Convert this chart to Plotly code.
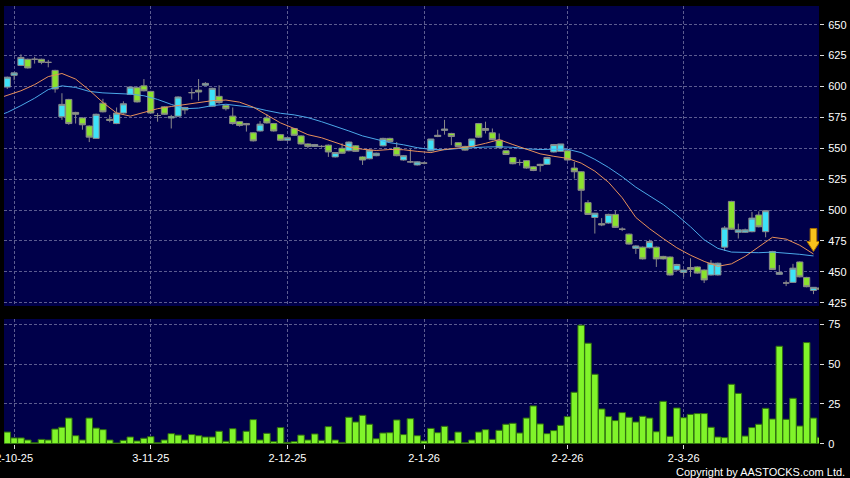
import plotly.graph_objects as go

# trading day index (0 = 30-9-25), one entry per session
days = list(range(120))

opens = [
    599.5, 609, 617, 622, 622, 622, 619.5, 613, 575.5, 589.5,
    579, 574.5, 568, 558, 586.5, 573.5, 570, 578.5, 593.5, 599,
    600.5, 596, 576.5, 583.5, 574.5, 576, 583, 595, 597, 601,
    584, 592, 584.5, 576, 571.5, 570, 562.5, 564, 574.5, 570,
    561, 556.5, 566, 560, 553.5, 551.5, 551.5, 552.5, 543, 550,
    548, 552, 543, 541.5, 544, 552, 558, 550.5, 540.5, 539,
    536.5, 538, 548, 559.5, 564.5, 562, 554.5, 551.5, 551.5, 570,
    566, 562.5, 556.5, 548, 542.5, 538.5, 540, 535, 536, 537,
    547, 547.5, 548, 534, 531, 506, 494, 489, 489.5, 496.5,
    484.5, 480.5, 469, 470, 469.5, 470, 462.5, 462, 451.5, 449.5,
    453.5, 454, 451.5, 447.5, 447.5, 470, 507, 482, 482, 482.5,
    496, 482.5, 466.5, 448, 441, 441.5, 458, 445.5, 435, 437,
]
highs = [
    608, 611.5, 626, 622.5, 624, 622.5, 621.5, 613.5, 594.5, 590,
    579.5, 575, 568.5, 578, 590, 577, 583, 588, 600, 600,
    606, 596.5, 578.5, 584, 577, 592, 583.5, 598.5, 606, 603.5,
    599, 601, 585, 583, 572, 570.5, 563, 572, 577.5, 570.5,
    561.5, 559, 566.5, 560.5, 554, 553.5, 552.5, 553, 547, 554,
    555.5, 552.5, 543.5, 549, 546.5, 558.5, 558.5, 555, 544.5, 549.5,
    539.5, 539, 557.5, 565, 573, 562.5, 555, 552, 557.5, 570.5,
    571.5, 566, 562, 548.5, 543, 541, 540.5, 535.5, 537.5, 543,
    553.5, 553.5, 548.5, 539, 531.5, 508, 497.5, 493.5, 497, 500,
    486, 481, 471.5, 470.5, 476, 470.5, 463, 462.5, 456.5, 452,
    461, 454.5, 452, 459.5, 457.5, 487, 507.5, 489, 485, 498.5,
    499, 499.5, 467, 455.5, 443, 456.5, 458.5, 446, 437.5, 438,
]
lows = [
    598, 605, 616.5, 614.5, 618.5, 618, 615.5, 595, 573, 569,
    570, 565, 555, 557.5, 579, 571, 569.5, 578, 593, 587,
    596, 578, 571.5, 577, 566, 575.5, 577.5, 589.5, 588.5, 600.5,
    583.5, 586, 580.5, 569, 567.5, 563.5, 555.5, 563.5, 570, 563.5,
    556, 556, 560, 553, 550, 551, 550.5, 543, 542.5, 545.5,
    547.5, 547, 536.5, 541, 543.5, 551.5, 555, 543.5, 540, 538,
    536, 537, 547.5, 559, 561, 552.5, 551, 548, 551, 558.5,
    562, 556.5, 550, 544.5, 537, 536, 533.5, 531.5, 531, 536.5,
    546.5, 547, 540, 525.5, 498.5, 496, 481, 487, 489, 485.5,
    483, 472, 464.5, 460, 469, 454, 460, 447, 451, 446,
    446, 448.5, 441, 447, 447, 467, 484, 477, 481.5, 482,
    486, 478, 452, 447.5, 438.5, 441, 445.5, 437.5, 432, 435,
]
closes = [
    607.5, 611, 623.5, 615, 622, 619.5, 619.5, 598, 585.5, 570,
    577.5, 569, 559, 577.5, 579.5, 572.5, 578.5, 586, 599.5, 587.5,
    596.5, 578.5, 576.5, 577.5, 575.5, 591.5, 581, 595, 595.5, 602.5,
    598.5, 587, 582, 570, 568.5, 569, 556, 569.5, 570.5, 564,
    556.5, 558.5, 560.5, 553.5, 551.5, 553, 551.5, 547, 546.5, 546,
    555, 547.5, 540.5, 548.5, 546, 558, 555.5, 544, 544, 539,
    539, 538, 557.5, 560.5, 565.5, 559.5, 551.5, 548.5, 557.5, 559,
    564.5, 557, 550.5, 545, 537.5, 538.5, 534, 532, 537, 542.5,
    553, 553.5, 540.5, 531, 516, 496.5, 497.5, 488, 496.5, 486,
    484.5, 472.5, 471, 460.5, 474.5, 460.5, 460.5, 447.5, 456, 451.5,
    452, 449, 443.5, 457, 457, 485.5, 484.5, 484, 484, 493.5,
    486.5, 499.5, 452, 449.5, 441, 453, 446, 438, 437.5, 436,
]
volume = [
    7.3, 3.6, 3.6, 2.3, 0.6, 2.7, 2.3, 9.2, 10.3, 16.1,
    5.0, 2.3, 16.1, 9.8, 8.8, 2.3, 0.4, 2.1, 4.2, 1.7,
    3.4, 4.4, 0.6, 2.3, 6.3, 5.4, 2.3, 5.7, 5.0, 4.2,
    4.2, 7.8, 1.5, 9.4, 1.7, 7.8, 15.1, 2.3, 6.5, 1.3,
    10.1, 0.8, 1.3, 5.4, 2.3, 6.1, 2.1, 10.7, 2.3, 0.8,
    16.6, 13.6, 17.8, 12.2, 3.1, 6.7, 6.9, 14.9, 5.7, 15.7,
    5.0, 1.7, 9.6, 6.9, 10.9, 1.9, 7.3, 0.6, 2.3, 7.3,
    8.8, 2.7, 8.4, 12.2, 12.8, 6.7, 16.1, 23.7, 12.4, 6.3,
    8.2, 11.5, 17.0, 32.3, 74.4, 63.1, 43.6, 21.8, 17.0, 14.5,
    19.5, 16.6, 13.6, 17.2, 16.1, 7.5, 26.6, 4.6, 22.4, 16.3,
    18.4, 18.9, 18.9, 10.3, 4.2, 3.8, 37.3, 31.6, 4.8, 10.1,
    12.2, 22.2, 15.5, 61.2, 15.3, 28.5, 11.1, 63.5, 16.1, 4.0,
]

# moving averages, read every second session
ma_days = [-1] + list(range(0, 119, 2))
ma10 = [
    591, 593, 596.5, 601.5, 608, 610.5, 606, 597, 587, 578.5,
    576, 579, 582, 583.8, 585.2, 586.5, 588.5, 589, 587.3, 583.3,
    577, 570.5, 566, 561, 558.5, 555, 551, 549.2, 548.2, 549,
    548.8, 547.5, 546.5, 549, 550.5, 551.5, 554, 557, 553, 549,
    545.5, 543.5, 541.8, 538, 531.5, 522.5, 510, 494, 485, 477,
    469.5, 463.5, 458.5, 454.5, 456.5, 462.5, 470, 478, 476.5, 471.5,
    464.5,
]
ma20 = [
    577, 579, 584.5, 590.5, 597.5, 600.5, 599.2, 596, 594.8, 594.3,
    593.8, 592.5, 589.5, 585.5, 582, 582.5, 584.5, 585.6, 584.5, 583,
    580.5, 578.3, 577, 574.8, 571.5, 568, 564, 560, 557, 554.5,
    552.8, 550.5, 549, 548.8, 549.8, 550.5, 551, 551.2, 550.8, 549.5,
    549, 549.2, 549.2, 546.5, 541, 534.5, 527, 518.5, 511.5, 504.5,
    496, 486.5, 476, 469, 466, 465.5, 465.5, 466, 465.2, 464.2,
    462.9,
]

tick_days = [1, 21, 41, 61, 82, 99]
tick_labels = ['2-10-25', '3-11-25', '2-12-25', '2-1-26', '2-2-26', '2-3-26']
price_ticks = [425, 450, 475, 500, 525, 550, 575, 600, 625, 650]
volume_ticks = [0, 25, 50, 75]

GRID = '#5c5c90'
GRIDDASH = '3px,2px'

fig = go.Figure()

fig.add_trace(go.Candlestick(
    x=days, open=opens, high=highs, low=lows, close=closes,
    increasing=dict(line=dict(color='#8a8a8a', width=1), fillcolor='#3de2f8'),
    decreasing=dict(line=dict(color='#8a8a8a', width=1), fillcolor='#8ae22e'),
    whiskerwidth=0,
    xaxis='x', yaxis='y',
    showlegend=False
))

fig.add_trace(go.Scatter(
    x=ma_days, y=ma20, mode='lines',
    line=dict(color='#4ba8e8', width=1),
    xaxis='x', yaxis='y', showlegend=False
))
fig.add_trace(go.Scatter(
    x=ma_days, y=ma10, mode='lines',
    line=dict(color='#e8905a', width=1),
    xaxis='x', yaxis='y', showlegend=False
))

fig.add_trace(go.Bar(
    x=days, y=volume,
    marker=dict(color='#80f42a', line=dict(color='#2e6c10', width=1)),
    xaxis='x2', yaxis='y2', showlegend=False
))

# yellow arrow above the last session
fig.add_shape(
    type='path', xref='x', yref='y',
    xsizemode='pixel', ysizemode='pixel',
    xanchor=days[118], yanchor=466.5,
    path='M 0 0 L -6.5 10 L -3.3 10 L -3.3 23 L 3.3 23 L 3.3 10 L 6.5 10 Z',
    fillcolor='#f8c21c', line=dict(color='#a87000', width=1)
)

fig.add_annotation(
    text='Copyright by AASTOCKS.com Ltd.',
    xref='paper', yref='paper', x=1.0344, y=-0.063,
    xanchor='right', yanchor='middle', showarrow=False,
    font=dict(size=11, color='white')
)

axis_common = dict(showgrid=True, gridcolor=GRID, griddash=GRIDDASH, gridwidth=1,
                   zeroline=False, showline=False, ticklabeloverflow='allow',
                   automargin=False)

fig.update_layout(
    width=850, height=478, autosize=False,
    margin=dict(l=4, r=31, t=6, b=34, autoexpand=False),
    paper_bgcolor='black',
    plot_bgcolor='#00004a',
    showlegend=False,
    boxgap=0.05, boxgroupgap=0.05,
    bargap=0.04,
    font=dict(family='Liberation Sans, Arial, sans-serif', size=11, color='white'),
    xaxis=dict(domain=[0, 1], anchor='y', range=[-0.48, 118.81],
               tickvals=tick_days, showticklabels=False, ticks='',
               rangeslider=dict(visible=False), **axis_common),
    yaxis=dict(domain=[0.3151, 1], anchor='x', range=[422.4, 665.1], side='right',
               tickvals=price_ticks, ticks='outside', ticklen=4, tickcolor='#dddddd',
               ticklabelstandoff=2, **axis_common),
    xaxis2=dict(domain=[0, 1], anchor='y2', matches='x', range=[-0.48, 118.81],
                tickvals=tick_days, ticktext=tick_labels,
                ticks='outside', ticklen=4, tickcolor='#dddddd', **axis_common),
    yaxis2=dict(domain=[0, 0.2854], anchor='x2', range=[-0.2, 78.3], side='right',
                tickvals=volume_ticks, ticks='outside', ticklen=4, tickcolor='#dddddd',
                ticklabelstandoff=2, **axis_common),
)

# page body has an 8px margin by default; drop it so the chart fills the window
fig.write_html('out.html', config={'displayModeBar': False},
               post_script="document.body.style.margin='0';document.body.style.overflow='hidden';")
